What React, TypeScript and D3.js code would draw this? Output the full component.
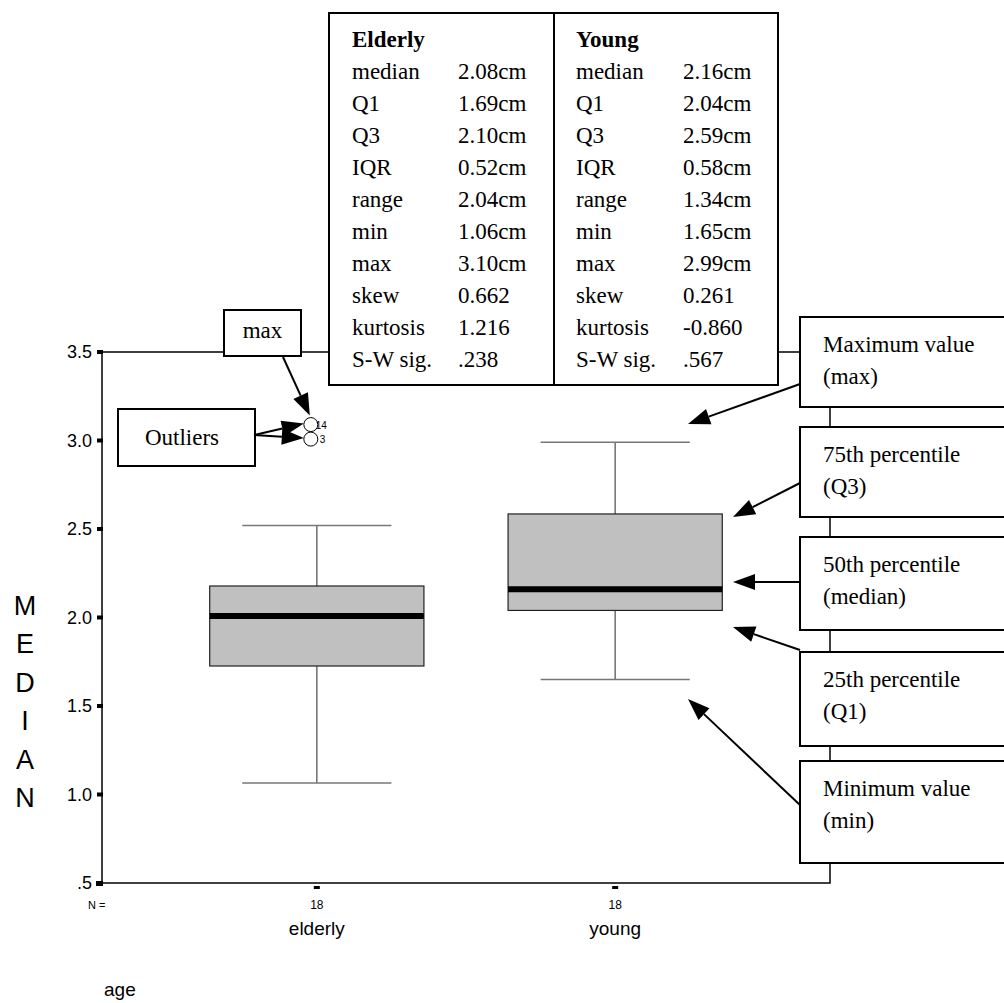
import React from 'react';
import * as d3 from 'd3';

// ---------- data ----------
const categories = ['elderly', 'young'];
const groupN = [18, 18];
const whiskerLow = [1.065, 1.65];
const q1 = [1.726, 2.04];
const medians = [2.008, 2.16];
const q3 = [2.178, 2.585];
const whiskerHigh = [2.52, 2.99];
const outlierCats = ['elderly', 'elderly'];
const outlierValues = [3.09, 3.008];
const outlierLabels = ['14', '3'];
const yTicks = [0.5, 1.0, 1.5, 2.0, 2.5, 3.0, 3.5];
const yTickLabels = ['.5', '1.0', '1.5', '2.0', '2.5', '3.0', '3.5'];

const statNames = ['median', 'Q1', 'Q3', 'IQR', 'range', 'min', 'max', 'skew', 'kurtosis', 'S-W sig.'];
const elderlyStats = ['2.08cm', '1.69cm', '2.10cm', '0.52cm', '2.04cm', '1.06cm', '3.10cm', '0.662', '1.216', '.238'];
const youngStats = ['2.16cm', '2.04cm', '2.59cm', '0.58cm', '1.34cm', '1.65cm', '2.99cm', '0.261', '-0.860', '.567'];

const annoLines = [
  ['Maximum value', '(max)'],
  ['75th percentile', '(Q3)'],
  ['50th percentile', '(median)'],
  ['25th percentile', '(Q1)'],
  ['Minimum value', '(min)'],
];

const SERIF = '"Liberation Serif", "Times New Roman", serif';
const SANS = '"Liberation Sans", Arial, sans-serif';

// ---------- layout ----------
const W = 1004, H = 1003;
const plotL = 102, plotR = 830, plotT = 352, plotB = 883;

const x = d3.scalePoint<string>().domain(categories).range([plotL, plotR]).padding(0.72);
const y = d3.scaleLinear().domain([0.5, 3.5]).range([plotB, plotT]);
const step = x.step();
const boxW = step * 0.718;
const capW = step * 0.5;

function arrow(x1: number, y1: number, x2: number, y2: number, key: string) {
  const L = 22, hw = 8;
  const dx = x2 - x1, dy = y2 - y1;
  const len = Math.hypot(dx, dy);
  const ux = dx / len, uy = dy / len;
  const bx = x2 - ux * L, by = y2 - uy * L;
  const px = -uy, py = ux;
  const pts = [[x2, y2], [bx + px * hw, by + py * hw], [bx - px * hw, by - py * hw]];
  return (
    <g key={key}>
      <line x1={x1} y1={y1} x2={bx} y2={by} stroke="#000" strokeWidth={2} />
      <polygon points={pts.map(p => p.join(',')).join(' ')} fill="#000" />
    </g>
  );
}

export default function App() {
  const annoTops = [317, 427, 537, 652, 761];
  const annoBottoms = [407, 517, 630, 746, 863];
  const rowY = (i: number) => 47 + 32 * i;
  const oy = (i: number) => y(outlierValues[i]);
  const ox = (i: number) => (x(outlierCats[i]) as number) - 6;

  return (
    <svg width={W} height={H} style={{ position: 'absolute', left: 0, top: 0, background: '#fff' }}>
      <rect x={0} y={0} width={W} height={H} fill="#fff" />
      {/* plot frame */}
      <rect x={plotL} y={plotT} width={plotR - plotL} height={plotB - plotT} fill="none" stroke="#000" strokeWidth={1.5} />

      {/* boxes */}
      {categories.map((c, i) => {
        const cx = x(c) as number;
        return (
          <g key={c}>
            <line x1={cx} x2={cx} y1={y(whiskerHigh[i])} y2={y(q3[i])} stroke="#777" strokeWidth={1.6} />
            <line x1={cx} x2={cx} y1={y(q1[i])} y2={y(whiskerLow[i])} stroke="#777" strokeWidth={1.6} />
            <line x1={cx - capW / 2} x2={cx + capW / 2} y1={y(whiskerHigh[i])} y2={y(whiskerHigh[i])} stroke="#777" strokeWidth={1.6} />
            <line x1={cx - capW / 2} x2={cx + capW / 2} y1={y(whiskerLow[i])} y2={y(whiskerLow[i])} stroke="#777" strokeWidth={1.6} />
            <rect x={cx - boxW / 2} y={y(q3[i])} width={boxW} height={y(q1[i]) - y(q3[i])} fill="#c0c0c0" stroke="#222" strokeWidth={1.2} />
            <line x1={cx - boxW / 2} x2={cx + boxW / 2} y1={y(medians[i])} y2={y(medians[i])} stroke="#000" strokeWidth={6} />
          </g>
        );
      })}

      {/* outliers */}
      {outlierValues.map((v, i) => (
        <g key={'o' + i}>
          <circle cx={ox(i)} cy={oy(i)} r={7} fill="none" stroke="#000" strokeWidth={1} />
          <text x={ox(i) + (i === 0 ? 5 : 9)} y={oy(i) + 4} fontFamily={SANS} fontSize={10} fill="#000">{outlierLabels[i]}</text>
        </g>
      ))}

      {/* y axis ticks */}
      {yTicks.map((t, i) => (
        <g key={'yt' + i}>
          <rect x={97} y={y(t) - 2} width={6} height={4} fill="#000" />
          <text x={92} y={y(t) + 6} textAnchor="end" fontFamily={SANS} fontSize={18} fill="#000">{yTickLabels[i]}</text>
        </g>
      ))}
      <rect x={96} y={plotB - 2} width={7} height={5} fill="#000" />

      {/* y title */}
      {'MEDIAN'.split('').map((ch, i) => (
        <text key={'m' + i} x={25} y={615 + 38.4 * i} textAnchor="middle" fontFamily={SANS} fontSize={27} fill="#000">{ch}</text>
      ))}

      {/* x axis */}
      <text x={88} y={909} fontFamily={SANS} fontSize={11} fill="#000">N =</text>
      {categories.map((c, i) => {
        const cx = x(c) as number;
        return (
          <g key={'xt' + c}>
            <rect x={cx - 3} y={886} width={6} height={3} fill="#000" />
            <text x={cx} y={909} textAnchor="middle" fontFamily={SANS} fontSize={12} fill="#000">{groupN[i]}</text>
            <text x={cx} y={935} textAnchor="middle" fontFamily={SANS} fontSize={19} fill="#000">{c}</text>
          </g>
        );
      })}
      <text x={104} y={996} fontFamily={SANS} fontSize={19} fill="#000">age</text>

      {/* stats table */}
      <rect x={329} y={13} width={449} height={372} fill="#fff" stroke="#000" strokeWidth={2} />
      <line x1={554} x2={554} y1={13} y2={385} stroke="#000" strokeWidth={2} />
      <text x={352} y={rowY(0)} fontFamily={SERIF} fontSize={23} fontWeight="bold" fill="#000">Elderly</text>
      <text x={576} y={rowY(0)} fontFamily={SERIF} fontSize={23} fontWeight="bold" fill="#000">Young</text>
      {statNames.map((s, i) => (
        <g key={'st' + i}>
          <text x={352} y={rowY(i + 1)} fontFamily={SERIF} fontSize={23} fill="#000">{s}</text>
          <text x={458} y={rowY(i + 1)} fontFamily={SERIF} fontSize={23} fill="#000">{elderlyStats[i]}</text>
          <text x={576} y={rowY(i + 1)} fontFamily={SERIF} fontSize={23} fill="#000">{s}</text>
          <text x={683} y={rowY(i + 1)} fontFamily={SERIF} fontSize={23} fill="#000">{youngStats[i]}</text>
        </g>
      ))}

      {/* left annotations */}
      <rect x={224} y={310} width={77} height={46} fill="#fff" stroke="#000" strokeWidth={2} />
      <text x={262.5} y={338} textAnchor="middle" fontFamily={SERIF} fontSize={23} fill="#000">max</text>
      <rect x={118} y={409} width={137} height={57} fill="#fff" stroke="#000" strokeWidth={2} />
      <text x={182} y={445} textAnchor="middle" fontFamily={SERIF} fontSize={23} fill="#000">Outliers</text>
      {arrow(283, 357, ox(0) - 1, oy(0) - 9, 'amax')}
      {arrow(254, 435, ox(0) - 7, oy(0) - 1, 'ao1')}
      {arrow(254, 435, ox(1) - 7, oy(1) - 1, 'ao2')}

      {/* right annotations */}
      {annoLines.map((lines, i) => (
        <g key={'an' + i}>
          <rect x={800} y={annoTops[i]} width={260} height={annoBottoms[i] - annoTops[i]} fill="#fff" stroke="#000" strokeWidth={2} />
          <text x={823} y={annoTops[i] + 35} fontFamily={SERIF} fontSize={23} fill="#000">{lines[0]}</text>
          <text x={823} y={annoTops[i] + 67} fontFamily={SERIF} fontSize={23} fill="#000">{lines[1]}</text>
        </g>
      ))}
      {arrow(800, 384, 688, 424, 'r0')}
      {arrow(800, 483, 733, 517, 'r1')}
      {arrow(800, 582, 733, 582, 'r2')}
      {arrow(800, 650, 733, 627, 'r3')}
      {arrow(800, 805, 688, 699, 'r4')}
    </svg>
  );
}
